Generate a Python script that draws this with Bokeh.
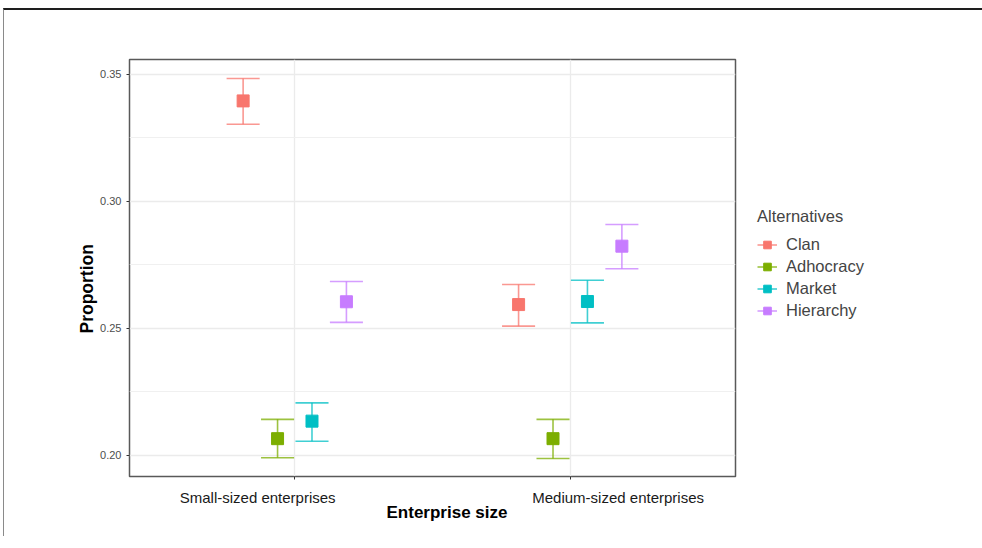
from bokeh.plotting import figure
from bokeh.models import (ColumnDataSource, FixedTicker, Legend, LegendItem, Title,
                          Range1d, NumeralTickFormatter, LinearAxis)
from bokeh.embed import file_html
from bokeh.resources import INLINE

# ---- data ----
sizes = ["Small-sized  enterprises", "Medium-sized  enterprises"]
alternatives = ["Clan", "Adhocracy", "Market", "Hierarchy"]
colors = ["#F8766D", "#7CAE00", "#00BFC4", "#C77CFF"]

clan_mean = [0.3396, 0.2594]
clan_lo = [0.3304, 0.2509]
clan_hi = [0.3484, 0.2673]
adho_mean = [0.2066, 0.2066]
adho_lo = [0.1991, 0.1988]
adho_hi = [0.2142, 0.2142]
market_mean = [0.2135, 0.2606]
market_lo = [0.2056, 0.2522]
market_hi = [0.2207, 0.2690]
hier_mean = [0.2605, 0.2824]
hier_lo = [0.2524, 0.2735]
hier_hi = [0.2685, 0.2909]

y_ticks = [0.20, 0.25, 0.30, 0.35]

series = [
    (clan_mean, clan_lo, clan_hi),
    (adho_mean, adho_lo, adho_hi),
    (market_mean, market_lo, market_hi),
    (hier_mean, hier_lo, hier_hi),
]

FONT = "Liberation Sans"
DODGE = 0.125
CAP = 0.06
FRAME_W, FRAME_H = 606, 417
X0, X1 = 0.4, 2.6

p = figure(frame_width=FRAME_W, frame_height=FRAME_H,
           x_range=Range1d(X0, X1), y_range=Range1d(0.1917, 0.3559),
           output_backend="svg", toolbar_location=None, x_axis_location=None,
           min_border_left=125, min_border_top=49, min_border_bottom=60, min_border_right=10)
p.styles = {"margin-left": "3px", "margin-top": "8px",
            "border-top": "2px solid #1e1e1e", "border-left": "1px solid #8a8a8a"}
p.background_fill_color = "white"
p.border_fill_color = "white"
p.outline_line_color = "#595959"
p.outline_line_width = 1.5

# grids
p.xgrid.ticker = FixedTicker(ticks=[1, 2])
p.xgrid.grid_line_color = "#ebebeb"
p.xgrid.grid_line_width = 1.3
minor = [(a + b) / 2 for a, b in zip(y_ticks[:-1], y_ticks[1:])]
p.ygrid.ticker = FixedTicker(ticks=y_ticks, minor_ticks=minor)
p.ygrid.grid_line_color = "#ebebeb"
p.ygrid.grid_line_width = 1.3
p.ygrid.minor_grid_line_color = "#f0f0f0"
p.ygrid.minor_grid_line_width = 1.0

# y axis
p.yaxis.ticker = FixedTicker(ticks=y_ticks)
p.yaxis.formatter = NumeralTickFormatter(format="0.00")
p.yaxis.axis_line_color = None
p.yaxis.major_tick_line_color = "#333333"
p.yaxis.major_tick_out = 3
p.yaxis.major_tick_in = 0
p.yaxis.minor_tick_line_color = None
p.yaxis.major_label_text_font = FONT
p.yaxis.major_label_text_font_size = "11px"
p.yaxis.major_label_text_color = "#4d4d4d"

# y title (placed lower than centre, as in the reference)
p.add_layout(Title(text="Proportion", align="left", offset=143, standoff=2,
                   text_font=FONT, text_font_style="bold", text_font_size="17.5px",
                   text_color="black"), "left")

# x axis: tick marks at the categories
tick_axis = LinearAxis(ticker=FixedTicker(ticks=[1, 2]), axis_line_color=None,
                       major_tick_line_color="#333333", major_tick_out=3, major_tick_in=0,
                       minor_tick_line_color=None, major_label_text_font_size="0px",
                       major_label_standoff=0, major_label_overrides={1: "", 2: ""})
p.add_layout(tick_axis, "below")

# x axis: category labels (placed slightly off-centre as in the reference)
px_per_unit = FRAME_W / (X1 - X0)
label_shift_px = [-35, 50]
label_pos = [round(i + 1 + s / px_per_unit, 4) for i, s in enumerate(label_shift_px)]
label_axis = LinearAxis(ticker=FixedTicker(ticks=label_pos), axis_line_color=None,
                        major_tick_line_color=None, minor_tick_line_color=None,
                        major_label_overrides={pos: name for pos, name in zip(label_pos, sizes)},
                        major_label_text_font=FONT, major_label_text_font_size="15px",
                        major_label_text_color="#1a1a1a", major_label_standoff=3)
p.add_layout(label_axis, "below")

# x title (placed right of centre, as in the reference)
p.add_layout(Title(text="Enterprise size", align="left", offset=257, standoff=-16,
                   text_font=FONT, text_font_style="bold", text_font_size="17px",
                   text_color="black"), "below")

items = []
for k, (name, (m, lo, hi)) in enumerate(zip(alternatives, series)):
    xs = [i + 1 + (k - 1.5) * DODGE for i in range(len(sizes))]
    src = ColumnDataSource(dict(x=xs, m=m, lo=lo, hi=hi,
                                xl=[x - CAP for x in xs], xr=[x + CAP for x in xs]))
    stem = p.segment(x0="x", y0="lo", x1="x", y1="hi", source=src,
                     line_color=colors[k], line_width=1.6, line_alpha=0.75)
    p.segment(x0="xl", y0="lo", x1="xr", y1="lo", source=src,
              line_color=colors[k], line_width=1.6, line_alpha=0.75)
    p.segment(x0="xl", y0="hi", x1="xr", y1="hi", source=src,
              line_color=colors[k], line_width=1.6, line_alpha=0.75)
    pts = p.scatter(x="x", y="m", source=src, marker="square", size=12,
                    fill_color=colors[k], line_color=colors[k])
    items.append(LegendItem(label=name, renderers=[stem, pts]))

legend = Legend(items=items, title="Alternatives", location=(22, 156),
                border_line_color=None, background_fill_alpha=0,
                label_text_font=FONT, label_text_font_size="16.5px",
                title_text_font=FONT, title_text_font_size="16.5px",
                title_text_font_style="normal", title_standoff=9,
                glyph_width=20, glyph_height=19, label_height=19, spacing=3,
                padding=10, margin=25, label_standoff=9)
p.add_layout(legend, "right")

open("out.html", "w").write(file_html(p, INLINE))
